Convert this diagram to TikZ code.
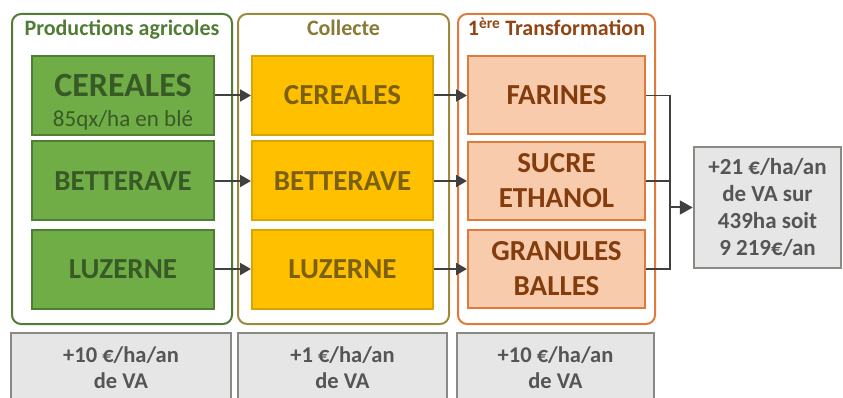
\documentclass[tikz,border=0pt]{standalone}
\usepackage{fontspec}
\setmainfont{Carlito}
\usetikzlibrary{positioning,arrows.meta,calc}
\definecolor{grnLine}{HTML}{507D35}
\definecolor{grnFill}{HTML}{70AD47}
\definecolor{grnText}{HTML}{385A26}
\definecolor{colLine}{HTML}{9E8A3C}
\definecolor{colText}{HTML}{8A7A36}
\definecolor{ylwFill}{HTML}{FFC000}
\definecolor{ylwLine}{HTML}{D9A500}
\definecolor{ylwText}{HTML}{7A6010}
\definecolor{orgLine}{HTML}{E07A3A}
\definecolor{orgFill}{HTML}{F8CBAD}
\definecolor{orgText}{HTML}{843C0C}
\definecolor{gryFill}{HTML}{E6E6E6}
\definecolor{gryLine}{HTML}{8A8A85}
\definecolor{gryText}{HTML}{555555}
\definecolor{arrCol}{HTML}{404040}

\begin{document}
\begin{tikzpicture}[x=1pt,y=-1pt,
  grp/.style={draw,line width=2pt,rounded corners=9pt,minimum height=310pt,inner sep=0pt},
  ttl/.style={anchor=base,font=\fontsize{22}{26}\selectfont\bfseries},
  box/.style={draw,line width=2pt,minimum height=79pt,inner sep=0pt,align=center,
    font=\fontsize{29}{35}\selectfont\bfseries},
  gbox/.style={box,fill=grnFill,draw=grnLine,text=grnText,minimum width=182pt},
  ybox/.style={box,fill=ylwFill,draw=ylwLine,text=ylwText,minimum width=181pt},
  obox/.style={box,fill=orgFill,draw=orgLine,text=orgText,minimum width=177pt,minimum height=78pt},
  va/.style={draw=gryLine,line width=2.5pt,fill=gryFill,text=gryText,inner sep=0pt,align=center,
    font=\fontsize{22.5}{26}\selectfont\bfseries},
  arr/.style={-{Triangle[length=11pt,width=12pt]},line width=2pt,draw=arrCol},
  ln/.style={line width=1.6pt,draw=arrCol}
]
\clip (0,0) rectangle (843,398);
% groupes
\node[grp,draw=grnLine,minimum width=220pt] (agri) at (122,169) {};
\node[grp,draw=colLine,minimum width=211pt] (coll) at (343.5,169) {};
\node[grp,draw=orgLine,minimum width=197pt] (trans) at (556.5,169) {};
\node[ttl,text=grnLine] (tAgri) at (122,36) {Productions agricoles};
\node[ttl,text=colText] (tColl) at (343.5,36) {Collecte};
\node[ttl,text=orgText!85!orgLine] (tTrans) at (556.5,36) {1\textsuperscript{ère} Transformation};
% productions
\node[gbox] (g1) at (123,95.5) {\fontsize{34}{32}\selectfont\rule{0pt}{36pt}CEREALES\\[-5pt]\fontsize{23}{26}\selectfont\mdseries 85qx/ha en blé};
\node[gbox] (g2) at (123,181) {BETTERAVE};
\node[gbox] (g3) at (123,269) {LUZERNE};
% collecte
\node[ybox] (y1) at (342.5,95.5) {CEREALES};
\node[ybox] (y2) at (342.5,181) {BETTERAVE};
\node[ybox] (y3) at (342.5,269) {LUZERNE};
% transformation
\node[obox] (o1) at (556.5,95.5) {FARINES};
\node[obox] (o2) at (556.5,181) {SUCRE\\ETHANOL};
\node[obox] (o3) at (556.5,269) {GRANULES\\BALLES};
% valeur ajoutee
\node[va,minimum width=147pt,minimum height=121pt,font=\fontsize{23}{27}\selectfont\bfseries] (res) at (767.5,207.5)
  {+21 €/ha/an\\de VA sur\\439ha soit\\9 219€/an};
\node[va,minimum width=220pt,minimum height=70pt] (vaAgri) at (121,368) {+10 €/ha/an\\de VA};
\node[va,minimum width=209pt,minimum height=70pt] (vaColl) at (342.5,368) {+1 €/ha/an\\de VA};
\node[va,minimum width=197pt,minimum height=70pt] (vaTrans) at (555.5,368) {+10 €/ha/an\\de VA};
\coordinate (bus) at (670,207.5);
\draw[arr] (g1.east) -- (y1.west);
\draw[arr] (g2.east) -- (y2.west);
\draw[arr] (g3.east) -- (y3.west);
\draw[arr] (y1.east) -- (o1.west);
\draw[arr] (y2.east) -- (o2.west);
\draw[arr] (y3.east) -- (o3.west);
\draw[ln] (o1.east) -| (bus);
\draw[ln] (o2.east) -| (bus);
\draw[ln] (o3.east) -| (bus);
\draw[arr,-{Triangle[length=13pt,width=14pt]}] (bus) -- (res.west);
\end{tikzpicture}
\end{document}
